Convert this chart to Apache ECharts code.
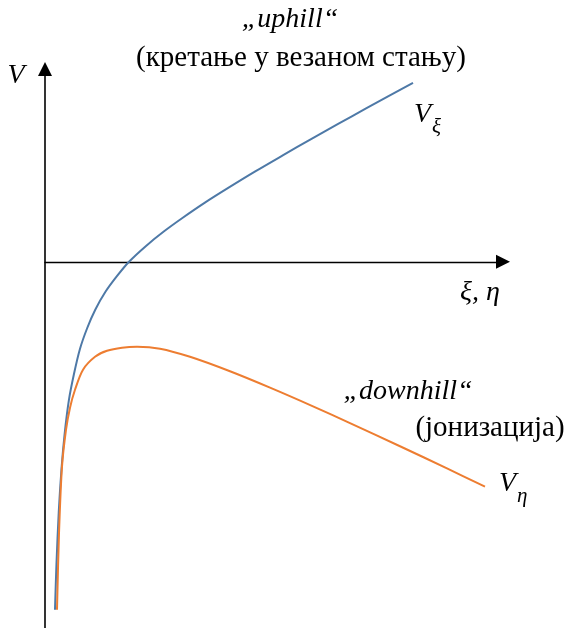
<!DOCTYPE html>
<html>
<head>
<meta charset="utf-8">
<script src="https://cdn.jsdelivr.net/npm/echarts@6/dist/echarts.min.js"></script>
<style>
  html, body { margin: 0; padding: 0; background: #fff; }
  #chart { width: 570px; height: 628px; }
</style>
</head>
<body>
<div id="chart"></div>
<script>
// Effective potentials in parabolic coordinates (arbitrary units).
// Coordinate along ξ
const xiCoord = [0.218, 0.25, 0.30, 0.36, 0.43, 0.52, 0.63, 0.76, 0.92, 1.10, 1.32, 1.57, 1.834,
                 2.2, 2.6, 3.0, 3.5, 4.0, 4.6, 5.2, 5.8, 6.4, 7.0, 7.5, 8.035];
// V_ξ — "uphill", bound motion
const vXi = [-18.05, -15.7, -13.0, -10.75, -8.9, -7.2, -5.85, -4.55, -3.45, -2.48, -1.56, -0.75, 0.0,
             0.81, 1.58, 2.27, 3.08, 3.83, 4.70, 5.53, 6.35, 7.15, 7.94, 8.59, 9.28];

// Coordinate along η
const etaCoord = [0.262, 0.306, 0.371, 0.459, 0.546, 0.655, 0.830, 1.092, 1.354, 1.681,
                  2.009, 2.511, 3.166, 4.039, 4.913, 5.852, 6.659, 7.751, 8.777, 9.607];
// V_η — "downhill", ionization
const vEta = [-18.05, -14.06, -10.63, -8.71, -7.57, -6.64, -5.60, -4.93, -4.62, -4.46,
              -4.41, -4.51, -4.93, -5.68, -6.53, -7.50, -8.37, -9.57, -10.72, -11.67];

const xRange = [0, 10];
const yRange = [-19, 10];

const serif = '"Liberation Serif", "DejaVu Serif", serif';

const chart = echarts.init(document.getElementById('chart'), null, { renderer: 'canvas' });

const pairs = (xs, ys) => xs.map((x, i) => [x, ys[i]]);

const axisLineStyle = (w) => ({
  show: true,
  onZero: true,
  symbol: ['none', 'triangle'],
  symbolSize: [14, 14],
  lineStyle: { color: '#000', width: w }
});

const txt = (x, y, text, size, italic, extra) => ({
  type: 'text', silent: true,
  style: Object.assign({
    x: x, y: y, text: text, align: 'center', verticalAlign: 'middle',
    fontFamily: serif, fontSize: size, fontStyle: italic ? 'italic' : 'normal', fill: '#000'
  }, extra || {})
});

const subLabel = (x, y, main, sub) => ({
  type: 'text', silent: true,
  style: {
    x: x, y: y, text: '{v|' + main + '}{s|' + sub + '}', fill: '#000',
    rich: {
      v: { fontFamily: serif, fontSize: 28, fontStyle: 'italic', verticalAlign: 'top' },
      s: { fontFamily: serif, fontSize: 21, fontStyle: 'italic', verticalAlign: 'bottom', padding: [16, 0, 0, 1] }
    }
  }
});

chart.setOption({
  animation: false,
  backgroundColor: '#fff',
  grid: { left: 45, right: 67, top: 69, bottom: 0, containLabel: false },
  xAxis: {
    type: 'value', min: xRange[0], max: xRange[1],
    axisLine: axisLineStyle(1.3),
    axisTick: { show: false }, axisLabel: { show: false }, splitLine: { show: false }
  },
  yAxis: {
    type: 'value', min: yRange[0], max: yRange[1],
    axisLine: axisLineStyle(1.6),
    axisTick: { show: false }, axisLabel: { show: false }, splitLine: { show: false }
  },
  series: [
    {
      name: 'Vξ', type: 'line', data: pairs(xiCoord, vXi),
      smooth: 0.3, showSymbol: false, symbol: 'none',
      lineStyle: { color: '#4e79a7', width: 2 }
    },
    {
      name: 'Vη', type: 'line', data: pairs(etaCoord, vEta),
      smooth: 0.3, showSymbol: false, symbol: 'none',
      lineStyle: { color: '#ed7d31', width: 2 }
    }
  ],
  graphic: [
    txt(16, 76, 'V', 28, true),
    txt(480, 293, 'ξ, η', 28, true),
    txt(290, 20, '„uphill“', 28, true),
    txt(301, 58, '(кретање у везаном стању)', 29, false),
    txt(408, 392, '„downhill“', 28, true),
    txt(490, 428, '(јонизација)', 29, false),
    subLabel(414, 101, 'V', 'ξ'),
    subLabel(499, 470, 'V', 'η')
  ]
});
</script>
</body>
</html>
